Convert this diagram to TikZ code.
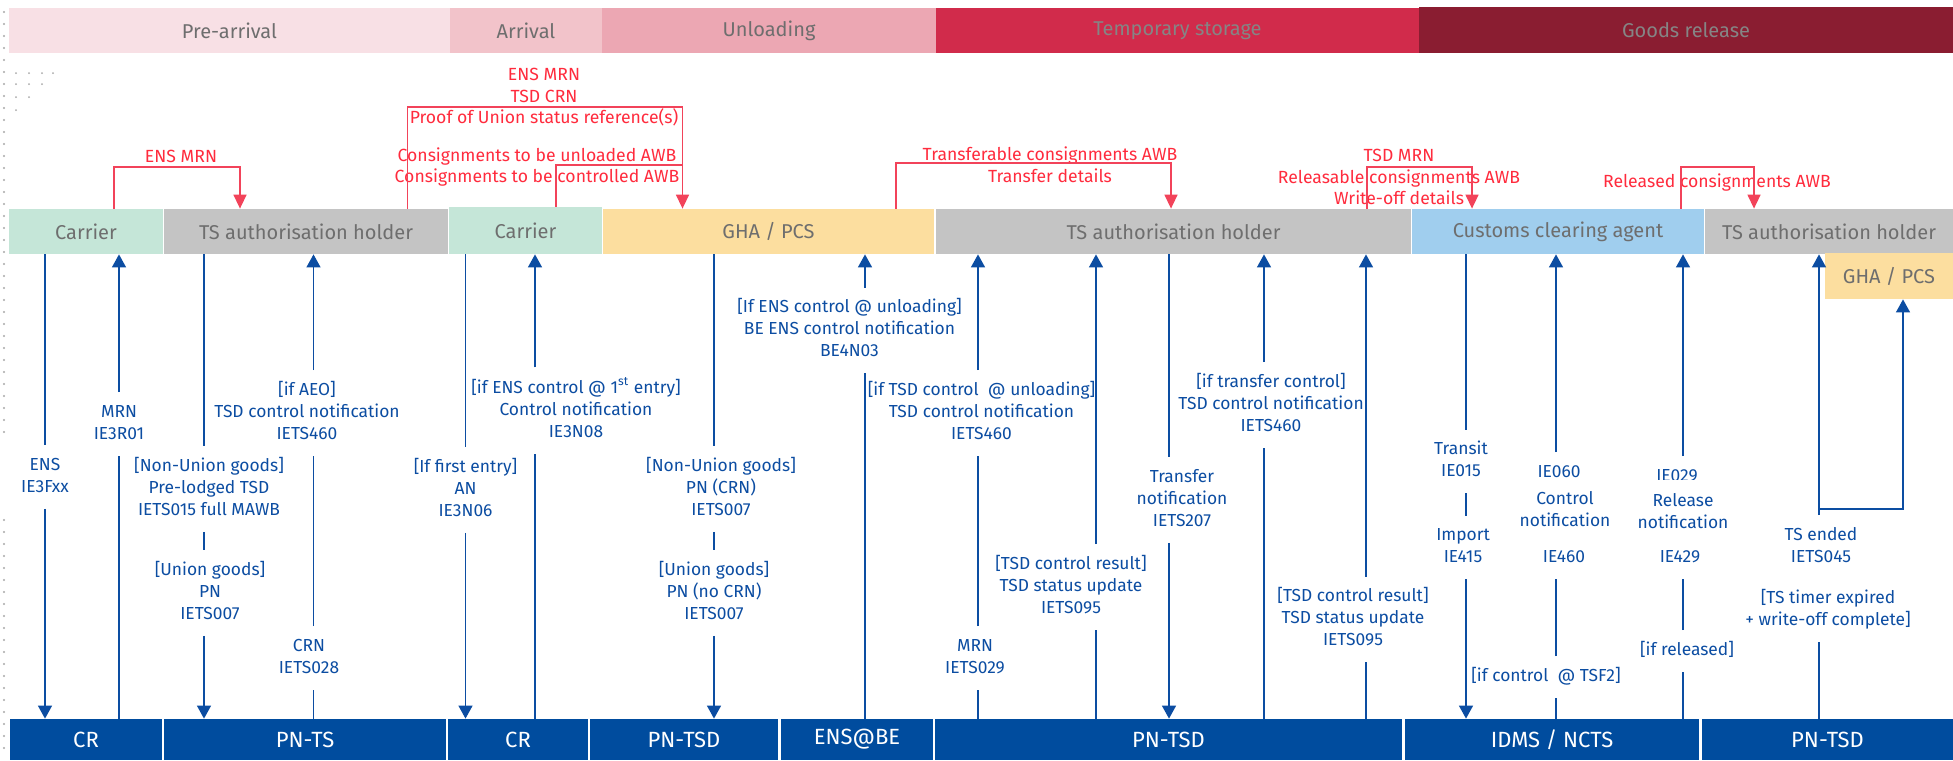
\documentclass[tikz,border=0pt]{standalone}
\usepackage{fontspec}
\setmainfont{Fira Sans}
\usetikzlibrary{arrows.meta}
\definecolor{bl}{HTML}{0C4DA2}
\definecolor{sysb}{HTML}{004C9E}
\definecolor{rd}{HTML}{FF2B3D}
\definecolor{rdl}{HTML}{F2435A}
\definecolor{ph1}{HTML}{F8E0E5}
\definecolor{ph2}{HTML}{F2C3CA}
\definecolor{ph3}{HTML}{ECA7B3}
\definecolor{ph4}{HTML}{D12B4B}
\definecolor{ph5}{HTML}{8A1D31}
\definecolor{mint}{HTML}{C5E6D8}
\definecolor{gry}{HTML}{C4C4C4}
\definecolor{yel}{HTML}{FCDE9F}
\definecolor{sky}{HTML}{A0CEEE}
\definecolor{txg}{HTML}{6E6E6E}
\definecolor{txd}{HTML}{858585}
\definecolor{dotg}{HTML}{A8A8A8}
\tikzset{
 phase/.style={inner sep=0, text=txg, font=\fontsize{10}{12}\selectfont},
 actor/.style={inner sep=0, text=txg, font=\fontsize{10}{12}\selectfont, minimum height=22.5pt},
 sysbox/.style={inner sep=0, fill=sysb, text=white, font=\fontsize{11}{13}\selectfont, minimum height=20.5pt},
 lbl/.style={text=bl, font=\fontsize{8.7}{11}\selectfont, align=center, inner xsep=1pt, inner ysep=4.75pt},
 rlbl/.style={text=rd, font=\fontsize{8.8}{10.75}\selectfont, align=center, inner sep=0},
 bline/.style={draw=bl, line width=0.7pt},
 barr/.style={bline, -{Triangle[width=7pt,length=6.5pt]}},
 rline/.style={draw=rdl, line width=0.75pt},
 rarr/.style={rline, -{Triangle[width=6.5pt,length=7pt]}},
}
\begin{document}
\begin{tikzpicture}[x=0.5pt,y=-0.5pt]
\fill[white] (0,0) rectangle (1953,760);
\useasboundingbox (0,0) rectangle (1953,760);
% left dotted residue
\foreach \yy in {12,24,...,440} {\fill[dotg] (4,\yy) circle (0.55pt);}
\foreach \yy in {520,532,...,756} {\fill[dotg] (4,\yy) circle (0.55pt);}
\foreach \xx/\yy in {16/73,29/73,42/73,53/73,16/84,29/84,42/84,16/97,29/97,16/110} {\fill[dotg] (\xx,\yy) circle (0.5pt);}
% phases
\node[phase, fill=ph1, minimum width=220.5pt, minimum height=22.5pt] (ph1) at (229.5,30.5) {Pre-arrival};
\node[phase, fill=ph2, minimum width=76pt, minimum height=22.5pt] (ph2) at (526,30.5) {Arrival};
\node[phase, fill=ph3, minimum width=167pt, minimum height=22.5pt] (ph3) at (769,30.5) {Unloading};
\node[phase, fill=ph4, text=txd, minimum width=241.5pt, minimum height=22.5pt] (ph4) at (1177.5,30.5) {Temporary storage};
\node[phase, fill=ph5, text=txd, minimum width=267pt, minimum height=23pt] (ph5) at (1686,30) {Goods release};
% actors
\node[actor, fill=mint, minimum width=77pt] (car1) at (86,231.5) {Carrier};
\node[actor, fill=gry, minimum width=142pt] (tsah1) at (306,231.5) {TS authorisation holder};
\node[actor, fill=mint, minimum width=76.5pt, minimum height=23.5pt] (car2) at (525.5,230.5) {Carrier};
\node[actor, fill=yel, minimum width=165.5pt] (gha1) at (768.5,231.5) {GHA / PCS};
\node[actor, fill=gry, minimum width=237.5pt] (tsah2) at (1173.5,231.5) {TS authorisation holder};
\node[actor, fill=sky, minimum width=146pt] (cca) at (1558,231.5) {Customs clearing agent};
\node[actor, fill=gry, minimum width=124pt] (tsah3) at (1829,231.5) {TS authorisation holder};
\node[actor, fill=yel, minimum width=64pt, minimum height=23pt] (gha2) at (1889,276) {GHA / PCS};
% systems
\node[sysbox, minimum width=76pt] (cr1) at (86,739.5) {CR};
\node[sysbox, minimum width=141pt] (pnts) at (305,739.5) {PN-TS};
\node[sysbox, minimum width=70pt] (cr2) at (518,739.5) {CR};
\node[sysbox, minimum width=94pt] (pntsd1) at (684,739.5) {PN-TSD};
\node[sysbox, minimum width=76pt] (ensbe) at (857,739.5) {ENS@BE};
\node[sysbox, minimum width=233.5pt] (pntsd2) at (1168.5,739.5) {PN-TSD};
\node[sysbox, minimum width=147pt] (idms) at (1552,739.5) {IDMS / NCTS};
\node[sysbox, minimum width=125.5pt] (pntsd3) at (1827.5,739.5) {PN-TSD};
% red flows
\node[rlbl] (rl1) at (181,156) {ENS MRN};
\node[rlbl] (rl2) at (544,97.5) {ENS MRN\\TSD CRN\\Proof of Union status reference(s)};
\node[rlbl] (rl3) at (537,167) {Consignments to be unloaded AWB\\Consignments to be controlled AWB};
\node[rlbl] (rl4) at (1050,164.5) {Transferable consignments AWB\\Transfer details};
\node[rlbl] (rl5) at (1399,177) {TSD MRN\\Releasable consignments AWB\\Write-off details};
\node[rlbl] (rl6) at (1717,183) {Released consignments AWB};
\coordinate (r1a) at (114,167); \coordinate (r1b) at (240,167);
\draw[rarr] (car1.north -| r1a) -- (r1a) -- (r1b) -- (tsah1.north -| r1b);
\coordinate (r2a) at (407.5,107); \coordinate (r2b) at (682.5,107);
\coordinate (r2c) at (556,165); \coordinate (r2d) at (682.5,165);
\draw[rarr] (tsah1.north -| r2a) -- (r2a) -- (r2b) -- (gha1.north -| r2b);
\draw[rline] (car2.north -| r2c) -- (r2c) -- (r2d);
\coordinate (r3a) at (896,163); \coordinate (r3b) at (1171,163);
\draw[rarr] (gha1.north -| r3a) -- (r3a) -- (r3b) -- (tsah2.north -| r3b);
\coordinate (r4a) at (1367,167); \coordinate (r4b) at (1472,167);
\draw[rarr] (tsah2.north -| r4a) -- (r4a) -- (r4b) -- (cca.north -| r4b);
\coordinate (r5a) at (1681,167); \coordinate (r5b) at (1754,167);
\draw[rarr] (cca.north -| r5a) -- (r5a) -- (r5b) -- (tsah3.north -| r5b);
% blue flows
\coordinate (x1) at (45,0);
\node[lbl] (l1) at (45,477) {\strut ENS\\\strut IE3Fxx};
\draw[bline] (car1.south -| x1) -- (l1.north -| x1);
\draw[barr] (l1.south -| x1) -- (cr1.north -| x1);
\coordinate (x2) at (119,0);
\node[lbl] (l2) at (119,424) {\strut MRN\\\strut IE3R01};
\draw[bline] (cr1.north -| x2) -- (l2.south -| x2);
\draw[barr] (l2.north -| x2) -- (car1.south -| x2);
\coordinate (x3) at (204,0);
\node[lbl] (l3a) at (209,489) {\strut [Non-Union goods]\\\strut Pre-lodged TSD\\\strut IETS015 full MAWB};
\node[lbl] (l3b) at (210,593) {\strut [Union goods]\\\strut PN\\\strut IETS007};
\draw[bline] (tsah1.south -| x3) -- (l3a.north -| x3);
\draw[bline] (l3a.south -| x3) -- (l3b.north -| x3);
\draw[barr] (l3b.south -| x3) -- (pnts.north -| x3);
\coordinate (x4) at (313.5,0);
\node[lbl] (l4a) at (309,658) {\strut CRN\\\strut IETS028};
\node[lbl] (l4b) at (307,413) {\strut [if AEO]\\\strut TSD control notification\\\strut IETS460};
\draw[bline] (pnts.north -| x4) -- (l4a.south -| x4);
\draw[bline] (l4a.north -| x4) -- (l4b.south -| x4);
\draw[barr] (l4b.north -| x4) -- (tsah1.south -| x4);
\coordinate (x5) at (465.5,0);
\node[lbl] (l5) at (465.5,490) {\strut [If first entry]\\\strut AN\\\strut IE3N06};
\draw[bline] (car2.south -| x5) -- (l5.north -| x5);
\draw[barr] (l5.south -| x5) -- (cr2.north -| x5);
\coordinate (x6) at (535,0);
\node[lbl] (l6) at (576,410.5) {\strut [if ENS control @ 1\textsuperscript{st} entry]\\\strut Control notification\\\strut IE3N08};
\draw[bline] (cr2.north -| x6) -- (l6.south -| x6);
\draw[barr] (l6.north -| x6) -- (car2.south -| x6);
\coordinate (x7) at (714,0);
\node[lbl] (l7a) at (721,489) {\strut [Non-Union goods]\\\strut PN (CRN)\\\strut IETS007};
\node[lbl] (l7b) at (714,593) {\strut [Union goods]\\\strut PN (no CRN)\\\strut IETS007};
\draw[bline] (gha1.south -| x7) -- (l7a.north -| x7);
\draw[bline] (l7a.south -| x7) -- (l7b.north -| x7);
\draw[barr] (l7b.south -| x7) -- (pntsd1.north -| x7);
\coordinate (x8) at (865,0);
\node[lbl] (l8) at (849.5,330.5) {\strut [If ENS control @ unloading]\\\strut BE ENS control notification\\\strut BE4N03};
\draw[bline] (ensbe.north -| x8) -- (l8.south -| x8);
\draw[barr] (l8.north -| x8) -- (gha1.south -| x8);
\coordinate (x9) at (978,0);
\node[lbl] (l9a) at (975,658) {\strut MRN\\\strut IETS029};
\node[lbl] (l9b) at (981.5,413) {\strut [if TSD control\ \ @ unloading]\\\strut TSD control notification\\\strut IETS460};
\draw[bline] (pntsd2.north -| x9) -- (l9a.south -| x9);
\draw[bline] (l9a.north -| x9) -- (l9b.south -| x9);
\draw[barr] (l9b.north -| x9) -- (tsah2.south -| x9);
\coordinate (x10) at (1096,0);
\node[lbl] (l10) at (1071,587) {\strut [TSD control result]\\\strut TSD status update\\\strut IETS095};
\draw[bline] (pntsd2.north -| x10) -- (l10.south -| x10);
\draw[barr] (l10.north -| x10) -- (tsah2.south -| x10);
\coordinate (x11) at (1169,0);
\node[lbl] (l11) at (1182,500) {\strut Transfer\\\strut notification\\\strut IETS207};
\draw[bline] (tsah2.south -| x11) -- (l11.north -| x11);
\draw[barr] (l11.south -| x11) -- (pntsd2.north -| x11);
\coordinate (x12) at (1264,0);
\node[lbl] (l12) at (1271,405) {\strut [if transfer control]\\\strut TSD control notification\\\strut IETS460};
\draw[bline] (pntsd2.north -| x12) -- (l12.south -| x12);
\draw[barr] (l12.north -| x12) -- (tsah2.south -| x12);
\coordinate (x13) at (1366,0);
\node[lbl] (l13) at (1353,619.5) {\strut [TSD control result]\\\strut TSD status update\\\strut IETS095};
\draw[bline] (pntsd2.north -| x13) -- (l13.south -| x13);
\draw[barr] (l13.north -| x13) -- (tsah2.south -| x13);
\coordinate (x14) at (1466,0);
\node[lbl] (l14a) at (1461,461.5) {\strut Transit\\\strut IE015};
\node[lbl] (l14b) at (1463,547.5) {\strut Import\\\strut IE415};
\draw[bline] (cca.south -| x14) -- (l14a.north -| x14);
\draw[bline] (l14a.south -| x14) -- (l14b.north -| x14);
\draw[barr] (l14b.south -| x14) -- (idms.north -| x14);
\coordinate (x15) at (1556,0);
\node[lbl] (l15c) at (1546,677) {\strut [if control\ \ @ TSF2]};
\node[lbl] (l15b) at (1564,558) {\strut IE460};
\node[lbl] (l15a) at (1559,473) {\strut IE060};
\node[lbl] (l15m) at (1565,511.5) {\strut Control\\\strut notification};
\draw[bline] (idms.north -| x15) -- (l15c.south -| x15);
\draw[bline] (l15c.north -| x15) -- (l15b.south -| x15);
\draw[barr] (l15a.north -| x15) -- (cca.south -| x15);
\coordinate (x16) at (1683,0);
\node[lbl] (l16c) at (1687,651) {\strut [if released]};
\node[lbl] (l16b) at (1680,558) {\strut IE429};
\node[lbl] (l16a) at (1677,477) {\strut IE029};
\node[lbl, fill=white, inner ysep=5.5pt] (l16m) at (1683,513) {\strut Release\\\strut notification};
\draw[bline] (idms.north -| x16) -- (l16c.south -| x16);
\draw[bline] (l16c.north -| x16) -- (l16b.south -| x16);
\draw[barr] (l16a.north -| x16) -- (cca.south -| x16);
\coordinate (x17) at (1819,0);
\node[lbl] (l17a) at (1821,547) {\strut TS ended\\\strut IETS045};
\node[lbl] (l17b) at (1828,610) {\strut [TS timer expired\\\strut + write-off complete]};
\draw[bline, line width=1pt] (pntsd3.north -| x17) -- (l17b.south -| x17);
\draw[barr] (l17a.north -| x17) -- (tsah3.south -| x17);
\coordinate (br1) at (1819,509); \coordinate (br2) at (1903,509);
\draw[barr] (br1) -- (br2) -- (gha2.south -| br2);
\end{tikzpicture}
\end{document}
